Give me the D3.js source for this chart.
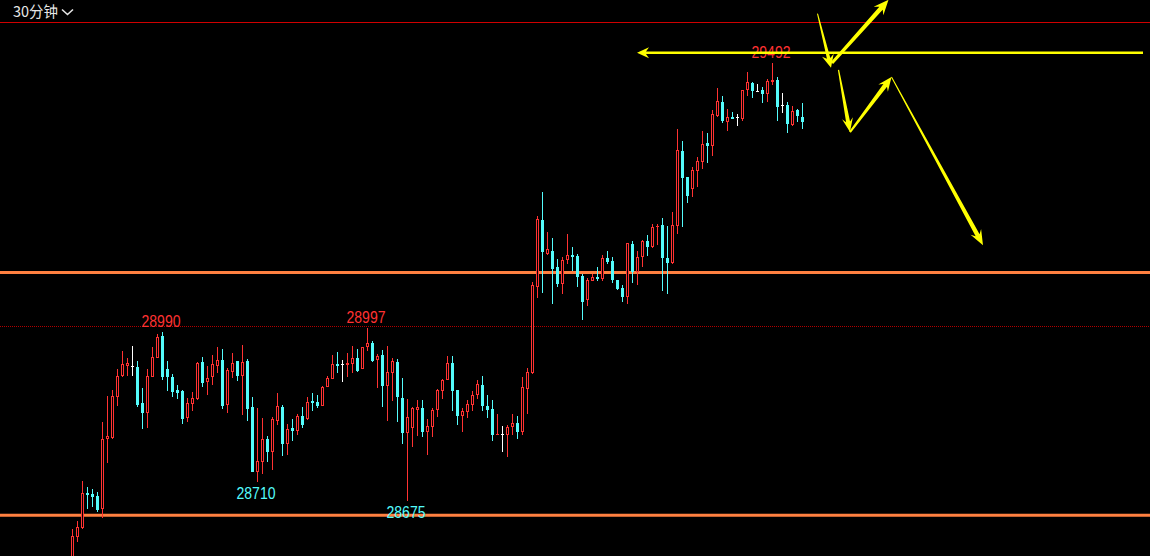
<!DOCTYPE html>
<html><head><meta charset="utf-8">
<script src="https://cdn.jsdelivr.net/npm/d3@7/dist/d3.min.js"></script>
<style>html,body{margin:0;padding:0;background:#000;overflow:hidden}svg{display:block}</style>
</head><body>
<svg id="chart" width="1150" height="556"></svg>
<script>
// ---- data (30-minute candles) ----
const open = [28561,28607,28624,28690,28688,28684,28660,28790,28792,28869,
28908,28927,28926,28925,28857,28839,28905,28942,28982,28921,
28906,28882,28880,28830,28856,28865,28933,28897,28905,28927,
28938,28854,28916,28936,28907,28936,28849,28729,28748,28790,
28766,28824,28850,28781,28811,28806,28833,28828,28861,28859,
28852,28888,28903,28931,28931,28929,28931,28941,28921,28961,
28969,28937,28947,28890,28914,28934,28867,28802,28811,28845,
28848,28804,28813,28845,28880,28901,28932,28882,28834,28841,
28854,28873,28891,28852,28846,28798,28799,28798,28813,28820,
28804,28884,28913,29074,29199,29136,29141,29111,29079,29124,
29134,29132,29094,29050,29086,29093,29089,29128,29122,29087,
29072,29056,29154,29102,29129,29160,29148,29185,29190,29128,
29119,29188,29328,29279,29256,29291,29307,29343,29338,29393,
29419,29381,29391,29391,29388,29442,29455,29440,29442,29434,
29457,29460,29414,29414,29376,29404,29391];
const high = [28622,28637,28712,28701,28697,28691,28822,28870,28882,28920,
28954,28942,28964,28936,28885,28921,28962,28986,28990,28936,
28912,28891,28882,28867,28878,28934,28943,28926,28947,28962,
28958,28923,28951,28936,28966,28940,28869,28848,28829,28796,
28831,28876,28854,28818,28828,28836,28850,28869,28876,28872,
28889,28908,28947,28953,28938,28951,28964,28958,28961,28997,
28973,28949,28956,28964,28941,28940,28904,28865,28850,28863,
28863,28828,28848,28884,28902,28945,28945,28882,28848,28863,
28880,28900,28908,28872,28863,28837,28814,28816,28837,28833,
28906,28923,29083,29206,29251,29177,29165,29126,29130,29173,
29149,29136,29098,29091,29098,29111,29134,29141,29130,29087,
29078,29156,29160,29141,29162,29171,29192,29192,29203,29188,
29214,29369,29346,29279,29298,29317,29365,29361,29404,29445,
29430,29406,29401,29397,29442,29475,29457,29453,29447,29462,
29492,29466,29436,29419,29412,29406,29417];
const low = [28546,28597,28623,28660,28664,28653,28643,28746,28791,28852,
28906,28908,28908,28849,28809,28811,28905,28942,28900,28880,
28869,28865,28819,28822,28842,28863,28888,28873,28891,28913,
28846,28838,28904,28899,28835,28824,28729,28710,28725,28748,
28733,28817,28759,28761,28787,28798,28811,28826,28843,28848,
28852,28887,28902,28914,28897,28905,28913,28915,28920,28955,
28934,28885,28849,28823,28862,28821,28780,28675,28776,28796,
28793,28761,28794,28832,28865,28900,28843,28817,28804,28830,
28843,28865,28843,28829,28787,28798,28766,28757,28798,28791,
28798,28837,28912,29054,29063,29134,29043,29074,29060,29116,
29104,29074,29013,29039,29085,29086,29086,29117,29082,29069,
29046,29043,29082,29078,29112,29132,29146,29152,29066,29061,
29116,29173,29185,29231,29242,29261,29295,29306,29319,29392,
29380,29365,29388,29374,29384,29430,29427,29438,29417,29419,
29451,29384,29399,29361,29374,29382,29369];
const close = [28609,28625,28689,28686,28682,28658,28790,28796,28870,28908,
28930,28932,28926,28854,28839,28908,28943,28981,28905,28905,
28878,28876,28828,28857,28867,28932,28895,28904,28930,28937,
28852,28919,28932,28907,28933,28846,28729,28750,28790,28766,
28828,28852,28781,28809,28806,28833,28817,28859,28858,28852,
28887,28904,28930,28927,28931,28932,28941,28917,28961,28969,
28936,28945,28890,28915,28936,28869,28802,28831,28848,28850,
28804,28814,28844,28881,28900,28932,28880,28834,28842,28856,
28872,28893,28852,28845,28798,28799,28799,28813,28820,28804,
28887,28915,29078,29201,29140,29145,29108,29080,29124,29134,
29130,29093,29046,29087,29093,29089,29128,29121,29087,29070,
29055,29156,29102,29130,29160,29149,29186,29188,29128,29119,
29190,29330,29278,29244,29292,29309,29341,29337,29397,29421,
29384,29391,29388,29391,29442,29457,29440,29440,29434,29458,
29460,29410,29414,29378,29402,29393,29382];

// horizontal price levels: resistance top, upper support, round number, lower support
const levelPrices = [29568, 29101, 29000, 28648];
// marked extremes
const markBar = [18, 59, 140, 37, 67];
const markText = ["28990", "28997", "29492", "28710", "28675"];
const markKind = ["high", "high", "high", "low", "low"];
// hand-drawn forecast arrows: [bar position, price]
const arrowFrom = [[149.0, 29584], [151.9, 29492], [153.2, 29479], [155.5, 29363], [163.8, 29466]];
const arrowTo   = [[151.7, 29483], [163.2, 29610], [155.5, 29363], [163.8, 29466], [182.1, 29152]];
const guideFrom = [214.1, 29511];
const guideTo   = [112.9, 29511];

// ---- drawing ----
const W = 1150, H = 556;
const RED = "#ff3232", CYAN = "#54fcfc", WHITE = "#ffffff", YEL = "#ffff00";
const svg = d3.select("#chart");
svg.append("rect").attr("width", W).attr("height", H).attr("fill", "#000");

const bars = d3.range(open.length);
const x = d3.scaleLinear().domain([0, open.length - 1]).range([72.5, 802.5]);
const y = d3.scaleLinear().domain([28675, 29492]).range([500.7, 63]);

// level lines
const levelStyle = [
  {stroke: "#d00000", w: 1, dash: null},
  {stroke: "#ff8040", w: 3, dash: null},
  {stroke: "#b00000", w: 1, dash: "1,1"},
  {stroke: "#ff8040", w: 3, dash: null}
];
levelPrices.forEach((p, k) => {
  const s = levelStyle[k];
  const yy = s.w === 1 ? Math.floor(y(p)) + 0.5 : y(p);
  svg.append("line").attr("x1", 0).attr("x2", W).attr("y1", yy).attr("y2", yy)
    .attr("stroke", s.stroke).attr("stroke-width", s.w)
    .attr("stroke-dasharray", s.dash);
});

// candles
const g = svg.append("g");
bars.forEach(i => {
  const o = open[i], c = close[i];
  const col = c > o ? RED : (c < o ? CYAN : WHITE);
  const cx = Math.round(x(i) - 0.5) + 0.5;
  const yh = Math.round(y(high[i])), yl = Math.round(y(low[i]));
  const top = Math.round(y(Math.max(o, c))), bot = Math.round(y(Math.min(o, c)));
  g.append("line").attr("x1", cx).attr("x2", cx).attr("y1", yh).attr("y2", Math.max(yl, yh + 1))
    .attr("stroke", col).attr("stroke-width", 1);
  if (c > o && bot - top >= 2) {
    g.append("rect").attr("x", cx - 1).attr("y", top + 0.5).attr("width", 2).attr("height", bot - top - 1)
      .attr("fill", "#000").attr("stroke", col).attr("stroke-width", 1);
  } else {
    g.append("rect").attr("x", cx - 1.5).attr("y", top).attr("width", 3).attr("height", Math.max(1, bot - top))
      .attr("fill", col);
  }
});

// extreme labels
markBar.forEach((b, k) => {
  const isHigh = markKind[k] === "high";
  const yy = isHigh ? Math.round(y(high[b])) - 5 : Math.round(y(low[b])) + 16.5;
  svg.append("text").attr("x", x(b) - 1.5).attr("y", yy)
    .attr("text-anchor", "middle")
    .attr("font-family", "'Liberation Sans Narrow','Liberation Sans',Arial,sans-serif")
    .attr("font-size", 16.5)
    .attr("textLength", 39).attr("lengthAdjust", "spacingAndGlyphs")
    .attr("fill", isHigh ? RED : CYAN)
    .text(markText[k]);
});

// period label
svg.append("text").attr("x", 13).attr("y", 17)
  .attr("font-family", "'Noto Sans CJK SC','Noto Sans',sans-serif")
  .attr("font-size", 15).attr("fill", "#e6e6e6")
  .attr("textLength", 45).attr("lengthAdjust", "spacingAndGlyphs")
  .text("30分钟");
svg.append("path").attr("d", "M62,9.5 L67.5,14.5 L73,9.5").attr("fill", "none")
  .attr("stroke", "#e6e6e6").attr("stroke-width", 1.6);

// arrows
function arrowPoints(p0, p1, w0, w1, hl, hw) {
  const dx = p1[0] - p0[0], dy = p1[1] - p0[1];
  const L = Math.hypot(dx, dy);
  const ux = dx / L, uy = dy / L, nx = -uy, ny = ux;
  const notch = [p1[0] - ux * hl * 0.75, p1[1] - uy * hl * 0.75];
  const back = [p1[0] - ux * hl, p1[1] - uy * hl];
  const pts = [
    [p0[0] + nx * w0 / 2, p0[1] + ny * w0 / 2],
    [notch[0] + nx * w1 / 2, notch[1] + ny * w1 / 2],
    [back[0] + nx * hw / 2, back[1] + ny * hw / 2],
    p1,
    [back[0] - nx * hw / 2, back[1] - ny * hw / 2],
    [notch[0] - nx * w1 / 2, notch[1] - ny * w1 / 2],
    [p0[0] - nx * w0 / 2, p0[1] - ny * w0 / 2]
  ];
  return pts.map(p => p.join(",")).join(" ");
}
const arrowShape = [
  {w0: 1, w1: 3.5, hl: 13, hw: 12},
  {w0: 3, w1: 4.5, hl: 15, hw: 13},
  {w0: 1.2, w1: 4, hl: 14, hw: 11},
  {w0: 2, w1: 4.5, hl: 14, hw: 12},
  {w0: 1, w1: 4.5, hl: 15, hw: 12}
];
const A = svg.append("g");
arrowFrom.forEach((f, k) => {
  const s = arrowShape[k];
  const p0 = [x(f[0]), y(f[1])], p1 = [x(arrowTo[k][0]), y(arrowTo[k][1])];
  A.append("polygon").attr("points", arrowPoints(p0, p1, s.w0, s.w1, s.hl, s.hw)).attr("fill", YEL);
});
// horizontal guide with arrowhead on the left
{
  const p0 = [x(guideFrom[0]), y(guideFrom[1])], p1 = [x(guideTo[0]), y(guideTo[1])];
  A.append("polygon").attr("points", arrowPoints(p0, p1, 2.6, 2.6, 12, 11)).attr("fill", YEL);
}
</script>
</body></html>
